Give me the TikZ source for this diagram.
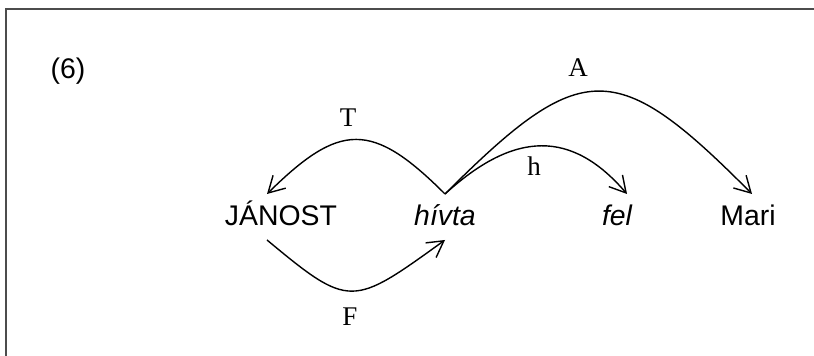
\documentclass[tikz,border=0pt]{standalone}
\usepackage{fontspec}
\setmainfont{Liberation Serif}
\setsansfont{Liberation Sans}
\usetikzlibrary{arrows.meta}

\begin{document}
\begin{tikzpicture}[
    x=0.5pt, y=-0.5pt,
    word/.style={font=\sffamily\fontsize{14.2}{16}\selectfont, inner sep=0pt, anchor=base, text height=12pt, text depth=3pt, outer ysep=4pt},
    lbl/.style={font=\fontsize{13.5}{15}\selectfont, inner sep=0pt},
    arrow/.style={-{Straight Barb[length=8pt, width=9pt]}, line width=0.7pt}
]
\useasboundingbox (0,0) rectangle (814,356);

% keret
\draw[gray!60!black, line width=0.9pt] (6,356) -- (6,9) -- (814,9);

\node[font=\sffamily\fontsize{14.2}{16}\selectfont] (num) at (68,71) {(6)};

% szavak
\node[word] (janost) at (281,226) {JÁNOST};
\node[word] (hivta) at (445,226) {\itshape hívta};
\node[word] (fel) at (617,226) {\itshape fel};
\node[word] (mari) at (748,226) {Mari};

% ivek
\draw[arrow] (hivta.north) .. controls +(-73,-73) and +(73,-72) .. ([xshift=-7pt]janost.north);
\draw[arrow] (hivta.north) .. controls +(137,-137) and +(-136,-137) .. ([xshift=2pt]mari.north);
\draw[arrow] (hivta.north) .. controls +(70,-64) and +(-55,-64) .. ([xshift=5pt]fel.north);
\draw[arrow] ([xshift=-7pt]janost.south) .. controls +(83,69) and +(-93,67) .. (hivta.south);

% cimkek
\node[lbl] (t) at (348,118) {T};
\node[lbl] (a) at (578,68) {A};
\node[lbl] (h) at (534,166) {h};
\node[lbl] (f) at (350,317) {F};

\end{tikzpicture}
\end{document}
